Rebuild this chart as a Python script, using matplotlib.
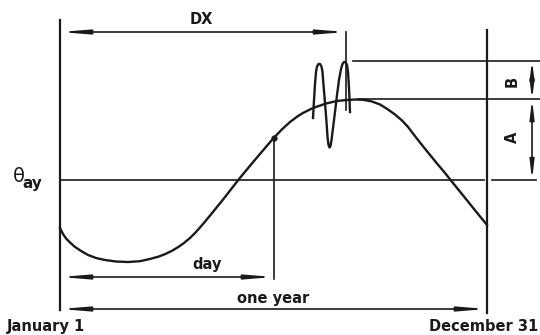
import matplotlib
matplotlib.use("Agg")
import matplotlib.pyplot as plt

# temperature curve over the year (day of year, temperature)
curve_day = [0.0, 2.56, 5.13, 8.55, 12.82, 17.95, 23.94, 30.77, 38.47, 47.87,
             58.13, 68.38, 76.93, 83.77, 89.75, 95.74, 100.87, 106.0, 111.12,
             116.25, 122.24, 128.22, 134.2, 140.19, 146.17, 152.15, 157.28,
             164.12, 170.96, 176.94, 182.93, 189.77, 196.6, 202.59, 207.72,
             216.26, 227.38, 236.78, 245.33, 252.17, 259.0, 266.7, 273.54,
             280.37, 286.36, 292.34, 297.47, 301.74, 306.02, 311.15, 316.28,
             322.26, 328.24, 333.37, 340.21, 347.9, 355.6, 365.0]
curve_theta = [4.0, 3.25, 2.69, 2.19, 1.63, 1.13, 0.63, 0.25, 0.0, -0.19,
               -0.25, -0.15, 0.13, 0.4, 0.73, 1.15, 1.6, 2.13, 2.75,
               3.5, 4.5, 5.55, 6.63, 7.71, 8.84, 9.96, 10.88,
               12.08, 13.26, 14.29, 15.29, 16.34, 17.25, 17.91, 18.38,
               19.0, 19.56, 19.88, 20.0, 20.06, 20.03, 19.81, 19.44,
               18.81, 18.19, 17.44, 16.63, 15.81, 15.0, 14.06, 13.13,
               12.06, 11.03, 10.09, 8.85, 7.46, 6.06, 4.38]

# short-term fluctuation near the peak
spike_day = [216.26, 217.12, 217.97, 218.83, 219.68, 220.96, 222.25, 223.53,
             224.38, 225.24, 226.52, 227.8, 228.66, 229.51, 230.37, 231.22,
             232.08, 233.36, 235.07, 236.78, 238.49, 240.2, 241.48, 242.76,
             244.05, 245.33, 246.18, 247.04, 247.9]
spike_theta = [17.75, 20.0, 22.0, 23.5, 24.19, 24.5, 24.5, 24.19,
               23.5, 21.88, 19.63, 17.25, 15.38, 14.38, 14.06, 14.25,
               15.0, 16.5, 18.5, 20.63, 22.5, 23.88, 24.5, 24.75,
               24.75, 24.38, 23.5, 21.5, 18.5]

theta_ay = 10.0      # annual mean
theta_peak = 20.1    # peak of the smooth curve
theta_max = 24.875   # top of the fluctuation
dx_day = 244.5       # day of the maximum
mark_day = 182.93    # "day" marker
mark_theta = 15.29
year_end = 365

fig = plt.figure(figsize=(5.4, 3.35), dpi=100)
ax = fig.add_axes([0, 0, 1, 1])
ax.set_xlim(-51.3, 410.3)
ax.set_ylim(-9.375, 32.5)
ax.axis("off")

ink = "#1a1a1a"
bold = dict(family="DejaVu Sans", fontweight="bold", color=ink)

# frame lines (Jan 1 and Dec 31)
ax.plot([0, 0], [-6.25, 30.0], color=ink, lw=1.6)
ax.plot([year_end, year_end], [-6.6, 28.75], color=ink, lw=1.6)

# mean line
ax.plot([0, year_end - 2.5], [theta_ay, theta_ay], color=ink, lw=1.2)
ax.plot([year_end + 4.5, 407], [theta_ay, theta_ay], color=ink, lw=1.2)
# peak and max reference lines
ax.plot([255, 410], [theta_peak, theta_peak], color=ink, lw=1.2)
ax.plot([250.5, 410], [theta_max, theta_max], color=ink, lw=1.2)

# curve and spike
ax.plot(curve_day, curve_theta, color=ink, lw=1.7, solid_joinstyle="round")
ax.plot(spike_day, spike_theta, color=ink, lw=1.7, solid_joinstyle="round")

# DX marker line
ax.plot([dx_day, dx_day], [18.75, 28.5], color=ink, lw=1.2)
# day marker
ax.plot([mark_day, mark_day], [-2.4, mark_theta], color=ink, lw=1.2)
ax.plot([mark_day], [mark_theta], "o", color=ink, ms=3.5)


def dim_arrow(x0, y0, x1, y1, hl=1.6):
    ax.annotate("", xy=(x1, y1), xytext=(x0, y0),
                arrowprops=dict(arrowstyle=f"<|-|>,head_length={hl},head_width=0.13",
                                color=ink, lw=1.2, shrinkA=0, shrinkB=0,
                                mutation_scale=10))


dim_arrow(0, 28.5, dx_day, 28.5)
dim_arrow(0, -2.125, mark_day, -2.125)
dim_arrow(0, -6.125, year_end, -6.125)
dim_arrow(403.5, theta_max, 403.5, theta_peak, hl=1.0)
dim_arrow(403.5, theta_peak, 403.5, theta_ay, hl=1.1)

ax.text(120.5, 30.1, "DX", ha="center", va="center", fontsize=10.5, **bold)
ax.text(125.7, -0.6, "day", ha="center", va="center", fontsize=10.5, **bold)
ax.text(182.1, -4.75, "one year", ha="center", va="center", fontsize=10.5, **bold)
ax.text(-45.3, -8.3, "January 1", ha="left", va="center", fontsize=10.5, **bold)
ax.text(408.6, -8.3, "December 31", ha="right", va="center", fontsize=10.5, **bold)
ax.text(386.4, 22.3, "B", ha="center", va="center", rotation=90, fontsize=10.5, **bold)
ax.text(386.4, 15.3, "A", ha="center", va="center", rotation=90, fontsize=10.5, **bold)

ax.text(-35.5, 10.5, "θ", ha="center", va="center", fontsize=14,
        family="DejaVu Sans", color=ink)
ax.text(-32.0, 9.6, "ay", ha="left", va="center", fontsize=11, **bold)

fig.savefig("out.png", dpi=100)
